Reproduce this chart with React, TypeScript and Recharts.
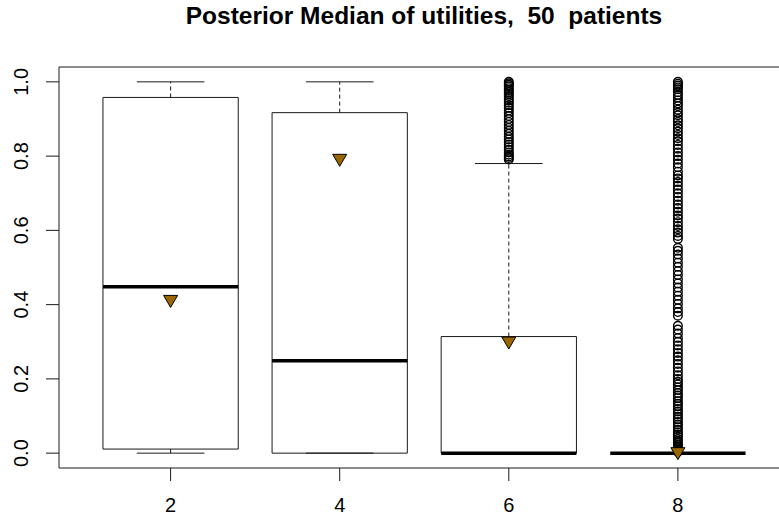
import React from 'react';
import {
  ComposedChart,
  XAxis,
  YAxis,
  Scatter,
  ReferenceArea,
  ReferenceLine,
} from 'recharts';

// box statistics per group
const groups = ['2', '4', '6', '8'];
const positions = [1, 2, 3, 4];
const lowerWhisker = [0, 0, 0, 0];
const q1 = [0.011, 0, 0, 0];
const medians = [0.448, 0.249, 0, 0];
const q3 = [0.958, 0.917, 0.314, 0];
const upperWhisker = [1.0, 1.0, 0.78, 0];
const means = [0.41, 0.79, 0.298, 0.0];

const outliers6 = [
  1.0, 0.996, 0.992, 0.988, 0.983, 0.978, 0.973, 0.968, 0.962, 0.956, 0.95,
  0.944, 0.937, 0.93, 0.923, 0.916, 0.908, 0.9, 0.892, 0.884, 0.876, 0.868,
  0.86, 0.852, 0.845, 0.838, 0.831, 0.824, 0.817, 0.81, 0.804, 0.799, 0.795,
  0.791,
];

const outliers8 = [
  1.0, 0.995, 0.99, 0.985, 0.98, 0.972, 0.965, 0.958, 0.95, 0.942, 0.935,
  0.925, 0.917, 0.91, 0.9, 0.892, 0.883, 0.875, 0.866, 0.857, 0.848, 0.84,
  0.83, 0.82, 0.81, 0.8, 0.79, 0.78, 0.77, 0.758, 0.748, 0.74, 0.73, 0.72,
  0.71, 0.7, 0.69, 0.68, 0.67, 0.66, 0.65, 0.64, 0.632, 0.622, 0.612, 0.603,
  0.594, 0.585, 0.577, 0.553, 0.545, 0.535, 0.524, 0.513, 0.502, 0.49, 0.48,
  0.468, 0.457, 0.446, 0.435, 0.424, 0.413, 0.402, 0.39, 0.38, 0.37, 0.343,
  0.333, 0.322, 0.31, 0.3, 0.29, 0.28, 0.27, 0.26, 0.25, 0.24, 0.23, 0.22,
  0.21, 0.2, 0.192, 0.185, 0.177, 0.17, 0.162, 0.155, 0.148, 0.14, 0.133,
  0.126, 0.119, 0.112, 0.105, 0.098, 0.091, 0.084, 0.077, 0.07, 0.063, 0.056,
  0.05, 0.044, 0.038, 0.032, 0.027, 0.022, 0.017, 0.013, 0.009, 0.006, 0.003,
];

const yTicks = [0, 0.2, 0.4, 0.6, 0.8, 1.0];

const FONT = '"Liberation Sans", Arial, Helvetica, sans-serif';
const LINE = '#1a1a1a';
const MEAN_FILL = '#996600';

const outlierData = [
  ...outliers6.map((v) => ({ pos: positions[2], value: v })),
  ...outliers8.map((v) => ({ pos: positions[3], value: v })),
];
const meanData = positions.map((p, i) => ({ pos: p, value: means[i] }));

const OpenCircle = (props: any) => {
  const { cx, cy } = props;
  return <circle cx={cx} cy={cy} r={4.3} fill="none" stroke="#000" strokeWidth={1.4} />;
};

const DownTriangle = (props: any) => {
  const { cx, cy } = props;
  return (
    <polygon
      points={`${cx - 7},${cy - 5.5} ${cx + 7},${cy - 5.5} ${cx},${cy + 6.5}`}
      fill={MEAN_FILL}
      stroke="#000"
      strokeWidth={1}
    />
  );
};

const YTick = (props: any) => {
  const { y, payload } = props;
  return (
    <text
      x={21}
      y={y}
      transform={`rotate(-90, 21, ${y})`}
      textAnchor="middle"
      dominantBaseline="central"
      fontFamily={FONT}
      fontSize={20}
      fill="#000"
    >
      {payload.value.toFixed(1)}
    </text>
  );
};

const XTick = (props: any) => {
  const { x, payload } = props;
  const idx = positions.indexOf(payload.value);
  return (
    <text x={x} y={512} textAnchor="middle" fontFamily={FONT} fontSize={20} fill="#000">
      {idx >= 0 ? groups[idx] : ''}
    </text>
  );
};

const App: React.FC = () => {
  return (
    <div
      style={{
        position: 'absolute',
        left: 0,
        top: 0,
        width: 779,
        height: 523,
        overflow: 'hidden',
        background: '#fff',
      }}
    >
      <svg
        width={779}
        height={60}
        style={{ position: 'absolute', left: 0, top: 0 }}
      >
        <text
          x={424}
          y={24}
          textAnchor="middle"
          fontFamily={FONT}
          fontWeight="bold"
          fontSize={24.5}
          fill="#000"
          style={{ whiteSpace: 'pre' }}
        >
          {'Posterior Median of utilities,  50  patients'}
        </text>
      </svg>
      <ComposedChart
        width={791}
        height={523}
        data={meanData}
        margin={{ top: 67, right: 1.5, bottom: 0, left: 0 }}
        style={{ position: 'absolute', left: 0, top: 0 }}
      >
        <XAxis
          type="number"
          dataKey="pos"
          domain={[0.34, 4.66]}
          ticks={positions}
          allowDataOverflow
          axisLine={false}
          tickSize={13}
          tickLine={{ stroke: LINE }}
          tick={<XTick />}
          height={55}
        />
        <YAxis
          type="number"
          dataKey="value"
          domain={[-0.04, 1.04]}
          ticks={yTicks}
          allowDataOverflow
          axisLine={false}
          tickSize={13}
          tickLine={{ stroke: LINE }}
          tick={<YTick />}
          width={59}
        />

        {/* plot frame */}
        <ReferenceArea
          x1={0.34}
          x2={4.66}
          y1={-0.04}
          y2={1.04}
          fill="none"
          fillOpacity={0}
          stroke={LINE}
          strokeWidth={1}
        />

        {/* boxes */}
        {positions.map((p, i) => (
          <ReferenceArea
            key={`box-${i}`}
            x1={p - 0.4}
            x2={p + 0.4}
            y1={q1[i]}
            y2={q3[i]}
            fill="#fff"
            fillOpacity={1}
            stroke={LINE}
            strokeWidth={1}
          />
        ))}

        {/* whiskers */}
        {positions.map((p, i) => (
          <ReferenceLine
            key={`wu-${i}`}
            segment={[
              { x: p, y: q3[i] },
              { x: p, y: upperWhisker[i] },
            ]}
            stroke={LINE}
            strokeDasharray="4 3"
          />
        ))}
        {positions.map((p, i) => (
          <ReferenceLine
            key={`wl-${i}`}
            segment={[
              { x: p, y: lowerWhisker[i] },
              { x: p, y: q1[i] },
            ]}
            stroke={LINE}
            strokeDasharray="4 3"
          />
        ))}

        {/* staples */}
        {positions.map((p, i) => (
          <ReferenceLine
            key={`su-${i}`}
            segment={[
              { x: p - 0.2, y: upperWhisker[i] },
              { x: p + 0.2, y: upperWhisker[i] },
            ]}
            stroke={LINE}
            strokeWidth={1}
          />
        ))}
        {positions.map((p, i) => (
          <ReferenceLine
            key={`sl-${i}`}
            segment={[
              { x: p - 0.2, y: lowerWhisker[i] },
              { x: p + 0.2, y: lowerWhisker[i] },
            ]}
            stroke={LINE}
            strokeWidth={1}
          />
        ))}

        {/* medians */}
        {positions.map((p, i) => (
          <ReferenceLine
            key={`med-${i}`}
            segment={[
              { x: p - 0.4, y: medians[i] },
              { x: p + 0.4, y: medians[i] },
            ]}
            stroke="#000"
            strokeWidth={3.5}
          />
        ))}

        <Scatter
          data={outlierData}
          dataKey="value"
          shape={<OpenCircle />}
          isAnimationActive={false}
        />
        <Scatter
          data={meanData}
          dataKey="value"
          shape={<DownTriangle />}
          isAnimationActive={false}
        />
      </ComposedChart>
    </div>
  );
};

export default App;
